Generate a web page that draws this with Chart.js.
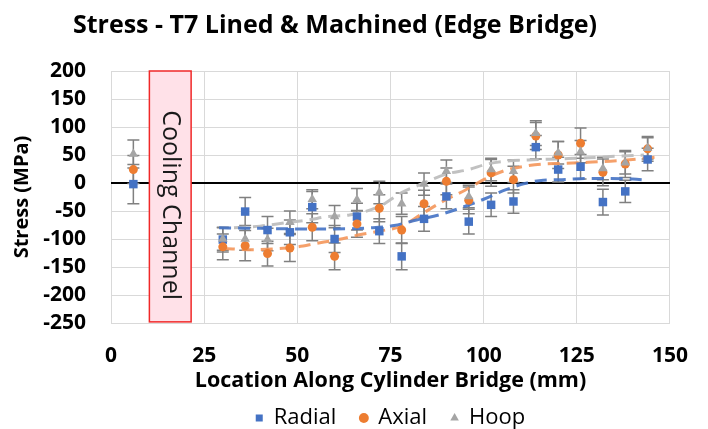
<!DOCTYPE html>
<html>
<head>
<meta charset="utf-8">
<script src="https://cdn.jsdelivr.net/npm/chart.js@4.4.1/dist/chart.umd.min.js"></script>
<style>
  html, body { margin: 0; padding: 0; background: #fff; }
</style>
</head>
<body>
<canvas id="stressChart" width="708" height="429"></canvas>
<script>
// measurement positions along the bridge (mm)
const locations = [6, 30, 36, 42, 48, 54, 60, 66, 72, 78, 84, 90, 96, 102, 108, 114, 120, 126, 132, 138, 144];

// stresses (MPa) and their +/- errors
const radialStress = [-2, -101, -51, -84, -88, -43, -100, -60, -86, -131, -64, -24, -69, -39, -33, 64, 24, 29, -34, -15, 42];
const axialStress  = [24, -114, -112, -126, -116, -79, -131, -73, -45, -84, -37, 3, -31, 18, 6, 84, 50, 71, 19, 34, 61];
const hoopStress   = [52, -100, -100, -101, -70, -29, -60, -30, -17, -37, -2, 21, -24, 24, 21, 89, 54, 56, 26, 36, 62];

const radialError = [35, 22, 25, 24, 22, 28, 24, 24, 22, 24, 22, 22, 22, 21, 21, 21, 22, 22, 23, 20, 20];
const axialError  = [25, 23, 27, 22, 24, 24, 24, 24, 24, 24, 24, 24, 24, 24, 24, 24, 24, 27, 24, 24, 22];
const hoopError   = [25, 20, 20, 20, 20, 17, 20, 20, 20, 19, 20, 20, 20, 20, 20, 22, 20, 20, 20, 20, 19];

// dashed trend curves
const radialTrendX = [29, 40, 50, 60, 70, 76, 82, 88, 94, 100, 106, 111, 116, 121, 128, 134, 140, 144];
const radialTrendY = [-80, -81, -82, -82, -80, -76, -66, -57, -44, -29, -12, -1, 5, 6, 8, 8, 7, 5];
const axialTrendX  = [30, 38, 45, 50, 55, 61, 67, 72, 78, 83, 89, 95, 100, 106, 111, 116, 121, 128, 134, 140, 146];
const axialTrendY  = [-117, -119, -117, -114, -108, -101, -92, -86, -77, -57, -33, -13, 6, 23, 30, 34, 35, 37, 39, 42, 46];
const hoopTrendX   = [33, 40, 47, 53, 58, 64, 72, 78, 84, 90, 96, 101, 106, 112, 120, 128, 136, 143];
const hoopTrendY   = [-80, -77, -71, -66, -60, -57, -42, -17, 0, 16, 24, 34, 39, 41, 43, 45, 48, 50];

// cooling channel marker (mm / MPa)
const channelStart = 10.3;
const channelEnd = 21.5;
const channelTop = 200;
const channelBottom = -248;
const channelLabelAt = 130;

const xTicks = { min: 0, max: 150, step: 25 };
const yTicks = { min: -250, max: 200, step: 50 };

const FONT = "'Open Sans'";
const BLUE = '#4472C4';
const ORANGE = '#ED7D31';
const GRAY = '#A5A5A5';

function points(xs, ys) {
  return xs.map((x, i) => ({ x: x, y: ys[i] }));
}

function trend(label, xs, ys, color) {
  return {
    label: label,
    data: points(xs, ys),
    showLine: true,
    borderColor: color,
    borderWidth: 3,
    borderDash: [12, 7],
    pointRadius: 0,
    cubicInterpolationMode: 'monotone',
    order: 5
  };
}

const errorSets = [
  { values: radialStress, errors: radialError },
  { values: axialStress, errors: axialError },
  { values: hoopStress, errors: hoopError }
];

const stressExtras = {
  id: 'stressExtras',
  afterLayout(chart) {
    // legend sits centred under the plot area, title a little left of centre
    const area = chart.chartArea;
    const lg = chart.legend;
    const shift = (area.left + area.right) / 2 - (lg.left + lg.right) / 2;
    lg.left += shift;
    lg.right += shift;
    chart.titleBlock.left -= 8;
    chart.titleBlock.right -= 8;
  },
  beforeDatasetsDraw(chart) {
    const ctx = chart.ctx;
    const xs = chart.scales.x;
    const ys = chart.scales.y;

    // cooling channel box
    const left = xs.getPixelForValue(channelStart);
    const right = xs.getPixelForValue(channelEnd);
    const top = ys.getPixelForValue(channelTop);
    const bottom = ys.getPixelForValue(channelBottom);
    ctx.save();
    ctx.fillStyle = '#FFE1E8';
    ctx.fillRect(left, top, right - left, bottom - top);
    ctx.strokeStyle = '#F02828';
    ctx.lineWidth = 1.5;
    ctx.strokeRect(left, top, right - left, bottom - top);
    ctx.translate((left + right) / 2, ys.getPixelForValue(channelLabelAt));
    ctx.rotate(Math.PI / 2);
    ctx.fillStyle = '#1a1a1a';
    ctx.font = '25px ' + FONT;
    ctx.textAlign = 'left';
    ctx.textBaseline = 'middle';
    ctx.fillText('Cooling Channel', 0, 0);
    ctx.restore();

    // error bars
    ctx.save();
    ctx.strokeStyle = '#808080';
    ctx.lineWidth = 1.5;
    errorSets.forEach(set => {
      locations.forEach((x, i) => {
        const px = xs.getPixelForValue(x);
        const hi = ys.getPixelForValue(set.values[i] + set.errors[i]);
        const lo = ys.getPixelForValue(set.values[i] - set.errors[i]);
        ctx.beginPath();
        ctx.moveTo(px, hi); ctx.lineTo(px, lo);
        ctx.moveTo(px - 6, hi); ctx.lineTo(px + 6, hi);
        ctx.moveTo(px - 6, lo); ctx.lineTo(px + 6, lo);
        ctx.stroke();
      });
    });
    ctx.restore();
  }
};

const ctx = document.getElementById('stressChart').getContext('2d');
new Chart(ctx, {
  type: 'scatter',
  data: {
    datasets: [
      { label: 'Radial', data: points(locations, radialStress), pointStyle: 'rect', pointRadius: 6,
        backgroundColor: BLUE, borderColor: BLUE, borderWidth: 0, order: 2 },
      { label: 'Axial', data: points(locations, axialStress), pointStyle: 'circle', pointRadius: 4.5,
        backgroundColor: ORANGE, borderColor: ORANGE, borderWidth: 0, order: 1 },
      { label: 'Hoop', data: points(locations, hoopStress), pointStyle: 'triangle', pointRadius: 5.5,
        backgroundColor: GRAY, borderColor: GRAY, borderWidth: 0, order: 0 },
      trend('Radial trend', radialTrendX, radialTrendY, 'rgba(68,114,196,0.9)'),
      trend('Axial trend', axialTrendX, axialTrendY, 'rgba(244,150,90,0.9)'),
      trend('Hoop trend', hoopTrendX, hoopTrendY, 'rgba(190,190,190,0.95)')
    ]
  },
  options: {
    responsive: false,
    animation: false,
    layout: { padding: { left: 0, right: 22, top: 0, bottom: -10 } },
    plugins: {
      title: {
        display: true,
        text: 'Stress - T7 Lined & Machined (Edge Bridge)',
        color: '#000',
        font: { family: FONT, size: 25, weight: 'bold' },
        padding: { top: 11, bottom: 30 }
      },
      legend: {
        position: 'bottom',
        labels: {
          usePointStyle: true,
          boxWidth: 7,
          boxHeight: 7,
          padding: 24,
          color: '#000',
          font: { family: FONT, size: 22 },
          filter: item => item.datasetIndex < 3,
          sort: (a, b) => a.datasetIndex - b.datasetIndex
        }
      },
      tooltip: { enabled: false }
    },
    scales: {
      x: {
        type: 'linear',
        min: xTicks.min,
        max: xTicks.max,
        afterFit: scale => { scale.height = 60; },
        ticks: { stepSize: xTicks.step, padding: 20, color: '#000', autoSkip: false,
          font: { family: FONT, size: 21, weight: 'bold' } },
        grid: { color: '#D9D9D9', lineWidth: 1, drawTicks: false },
        border: { display: false },
        title: { display: true, text: 'Location Along Cylinder Bridge (mm)', color: '#000',
          font: { family: FONT, size: 21.5, weight: 'bold' }, padding: { top: 0, bottom: -11 } }
      },
      y: {
        min: yTicks.min,
        max: yTicks.max,
        afterFit: scale => { scale.width = 111; },
        ticks: { stepSize: yTicks.step, padding: 25, color: '#000', autoSkip: false,
          font: { family: FONT, size: 21, weight: 'bold' } },
        grid: {
          color: c => c.tick.value === 0 ? '#000' : '#D9D9D9',
          lineWidth: c => c.tick.value === 0 ? 2 : 1,
          drawTicks: false
        },
        border: { display: false },
        title: { display: true, text: 'Stress (MPa)', color: '#000',
          font: { family: FONT, size: 20, weight: 'bold' }, padding: { top: 10, bottom: 0 } }
      }
    }
  },
  plugins: [stressExtras]
});
</script>
</body>
</html>
